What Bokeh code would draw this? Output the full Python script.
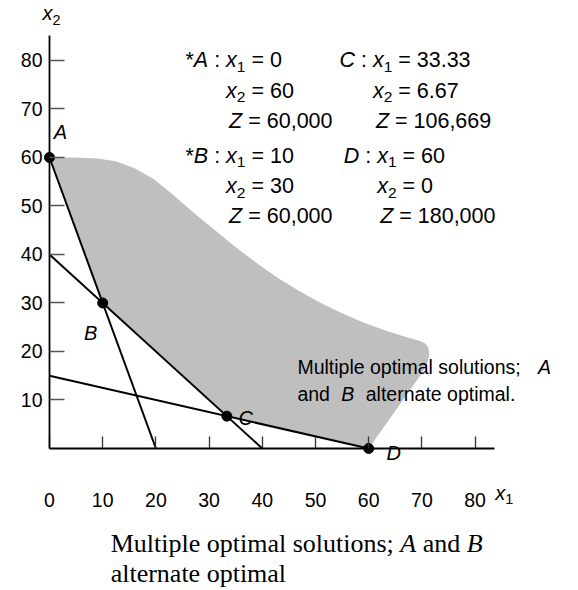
from bokeh.plotting import figure
from bokeh.models import LinearAxis, FixedTicker, Range1d
from bokeh.core.properties import value
from bokeh.embed import file_html
from bokeh.resources import INLINE

# ---------------- data ----------------
pt_names = ["A", "B", "C", "D"]
pt_x1 = [0, 10, 33.33, 60]
pt_x2 = [60, 30, 6.67, 0]
pt_z = [60000, 60000, 106669, 180000]
pt_optimal = [True, True, False, False]

# constraint lines given by their intercepts
con_x_int = [20, 40, 60]
con_y_int = [60, 40, 15]

# curved outer edge of the shaded region (from D round the corner back up to A)
edge_x = [70.0, 71.0, 71.4, 71.2, 70.6, 69.5, 67.0, 63.0, 59.0, 55.0, 51.0, 47.0,
          43.0, 39.0, 35.0, 31.0, 27.0, 23.0, 19.5, 16.0, 12.5, 9.0, 4.9]
edge_y = [15.5, 17.6, 19.4, 20.8, 21.7, 22.2, 23.0, 24.4, 26.0, 27.9, 30.0, 32.4,
          35.1, 38.2, 41.5, 45.1, 48.7, 52.5, 55.6, 57.8, 59.2, 59.8, 60.0]

x_ticks = [0, 10, 20, 30, 40, 50, 60, 70, 80]
y_ticks = [10, 20, 30, 40, 50, 60, 70, 80]

# ---------------- styling helpers ----------------
SANS = "Liberation Sans"
SERIF = "Liberation Serif"
ARIAL = {' ': .278, '*': .389, ':': .278, '=': .584, ',': .278, '.': .278, ';': .278,
         'A': .667, 'B': .667, 'C': .722, 'D': .722, 'Z': .611, 'M': .833,
         'a': .556, 'b': .556, 'c': .5, 'd': .556, 'e': .556, 'f': .278, 'g': .556,
         'h': .556, 'i': .222, 'l': .222, 'm': .833, 'n': .556, 'o': .556, 'p': .556,
         'r': .333, 's': .5, 't': .278, 'u': .556, 'x': .5}
TIMES = {' ': .25, ';': .278, 'M': .889, 'A': .611, 'B': .611, 'a': .444, 'd': .5,
         'e': .444, 'i': .278, 'l': .278, 'm': .778, 'n': .5, 'o': .5, 'p': .5,
         'r': .333, 's': .389, 't': .278, 'u': .5}


def text_width(s, table, size):
    return sum(table.get(c, 0.556) for c in s) * size


p = figure(width=578, height=590, output_backend="svg", toolbar_location=None,
           x_axis_type=None, y_axis_type=None, min_border=0,
           x_range=Range1d(-9.21, 99.44), y_range=Range1d(-29.28, 92.37))
p.outline_line_color = None
p.background_fill_color = "white"
p.border_fill_color = "white"


def rich(x, y, segs, size, font=SANS, table=ARIAL, dx=0.0, gap_extra=0.0):
    """Draw a run of text pieces (italic / subscript) one after another."""
    off = dx
    for txt, italic, sub in segs:
        fs = size * 0.72 if sub else size
        body = txt.strip(" ")
        lead = len(txt) - len(txt.lstrip(" "))
        trail = len(txt) - len(txt.rstrip(" "))
        off += text_width(" " * lead, table, fs) + gap_extra * lead
        if body:
            p.text(x=[x], y=[y], text=[body], x_offset=off,
                   y_offset=size * 0.32 if sub else 0,
                   text_font=value(font), text_font_size=f"{fs:.1f}px",
                   text_font_style="italic" if italic else "normal",
                   text_align="left", text_baseline="middle", text_color="black")
        off += text_width(body, table, fs)
        off += text_width(" " * trail, table, fs) + gap_extra * trail
    return off


# ---------------- shaded region ----------------
reg_x = list(pt_x1) + edge_x
reg_y = list(pt_x2) + edge_y
p.patch(reg_x, reg_y, fill_color="#bfbfbf", line_color=None)

# ---------------- constraint lines ----------------
p.segment(x0=[0] * len(con_y_int), y0=con_y_int, x1=con_x_int, y1=[0] * len(con_x_int),
          line_color="black", line_width=2)

# ---------------- axes ----------------
xa = LinearAxis(ticker=FixedTicker(ticks=x_ticks), fixed_location=0, bounds=(0, 83.6))
xa.axis_line_color = "black"
xa.axis_line_width = 1.8
xa.major_tick_in = 12
xa.major_tick_out = 0
xa.major_tick_line_color = "#333333"
xa.major_tick_line_width = 1.3
xa.minor_tick_line_color = None
xa.major_label_standoff = 45
xa.major_label_text_font = SANS
xa.major_label_text_font_size = "19.5px"
xa.major_label_text_color = "black"
p.add_layout(xa, "below")

ya = LinearAxis(ticker=FixedTicker(ticks=y_ticks), fixed_location=0, bounds=(0, 85.2))
ya.axis_line_color = "black"
ya.axis_line_width = 1.8
ya.major_tick_in = 15
ya.major_tick_out = 0
ya.major_tick_line_color = "#555555"
ya.major_tick_line_width = 1.3
ya.minor_tick_line_color = None
ya.major_label_standoff = 7
ya.major_label_text_font = SANS
ya.major_label_text_font_size = "19.5px"
ya.major_label_text_color = "black"
p.add_layout(ya, "left")

# axis titles
rich(-1.3, 89.7, [("x", True, False), ("2", False, True)], 20)
rich(83.8, -9.1, [("x", True, False), ("1", False, True)], 20)

# ---------------- points ----------------
p.scatter(pt_x1, pt_x2, size=10, color="black")
lab_dx = [11, -12, 19, 25]
lab_dy = [-25, 30, 2, 5]
for i, nm in enumerate(pt_names):
    p.text(x=[pt_x1[i]], y=[pt_x2[i]], text=[nm], x_offset=lab_dx[i], y_offset=lab_dy[i],
           text_font=value(SANS), text_font_size="20px", text_font_style="italic",
           text_align="center", text_baseline="middle", text_color="black")

# ---------------- solution block ----------------
FS = 21.5
col_left = [25.56, 25.56, 54.5, 55.3]
row_top = [80.0, 60.4, 80.0, 60.4]
row_gap = 6.2


def fmt(v):
    return f"{v:g}"


for i, nm in enumerate(pt_names):
    x0, y0 = col_left[i], row_top[i]
    pre = []
    if pt_optimal[i]:
        pre.append(("*", False, False))
    pre += [(nm, True, False), (" : ", False, False)]
    pre_w = sum(text_width(t, ARIAL, FS) for t, _, _ in pre)
    rich(x0, y0, pre + [("x", True, False), ("1", False, True),
                        (" = " + fmt(pt_x1[i]), False, False)], FS)
    rich(x0, y0 - row_gap, [("x", True, False), ("2", False, True),
                            (" = " + fmt(pt_x2[i]), False, False)], FS, dx=pre_w)
    rich(x0, y0 - 2 * row_gap, [("Z", True, False),
                                (" = " + f"{pt_z[i]:,}", False, False)], FS, dx=pre_w + 3)

# ---------------- notes ----------------
rich(46.6, 16.7, [("Multiple optimal solutions; ", False, False), ("A", True, False)],
     19.5, gap_extra=12)
rich(46.6, 11.3, [("and ", False, False), ("B", True, False),
                  (" alternate optimal.", False, False)], 19.5, gap_extra=6)

rich(11.5, -19.6, [("Multiple optimal solutions; ", False, False), ("A", True, False),
                   (" and ", False, False), ("B", True, False)], 26, font=SERIF, table=TIMES)
rich(11.5, -25.8, [("alternate optimal", False, False)], 26, font=SERIF, table=TIMES)

open("out.html", "w").write(file_html(p, INLINE))
